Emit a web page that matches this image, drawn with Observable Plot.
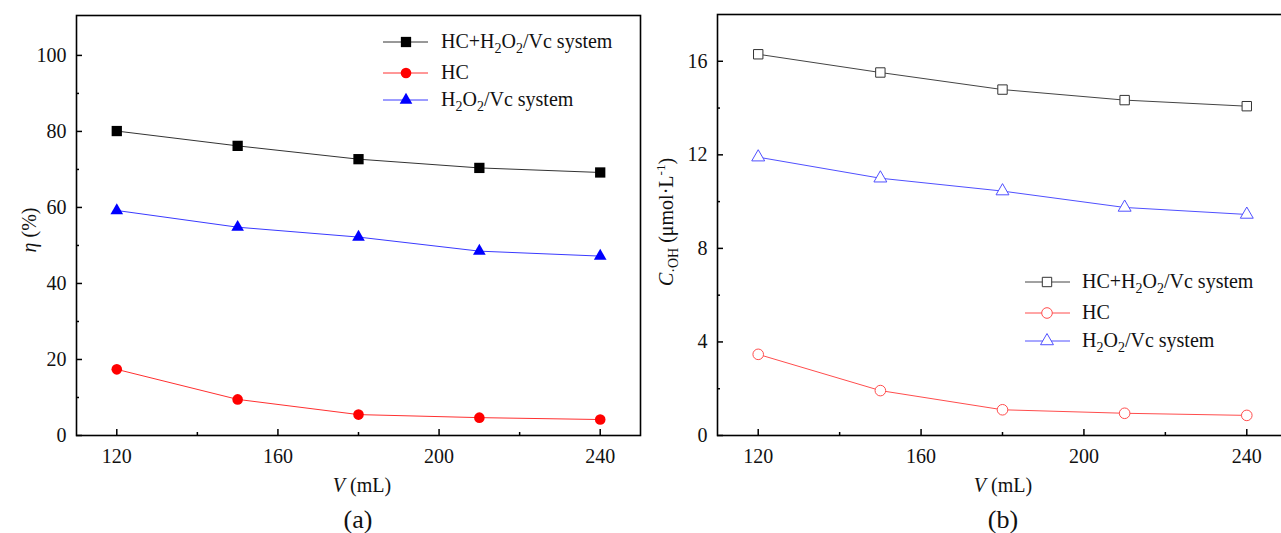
<!DOCTYPE html>
<html>
<head>
<meta charset="utf-8">
<script src="https://cdn.jsdelivr.net/npm/d3@7"></script>
<script src="https://cdn.jsdelivr.net/npm/@observablehq/plot@0.6"></script>
<style>
  html, body { margin: 0; padding: 0; background: #fff; overflow: hidden; }
  #wrap { position: relative; width: 1281px; height: 533px; overflow: hidden; }
  svg text { font-family: "Liberation Serif", "Times New Roman", serif !important; }
  .cap { position: absolute; font-family: "Liberation Serif", "Times New Roman", serif; font-size: 26px; color: #111; transform: translate(-50%, -50%); }
</style>
</head>
<body>
<div id="wrap"></div>
<script>
// ---- data ----
const volume = [120, 150, 180, 210, 240];
const etaCombined = [80.1, 76.2, 72.7, 70.4, 69.2];
const etaHC = [17.4, 9.5, 5.5, 4.7, 4.2];
const etaH2O2 = [59.2, 54.8, 52.2, 48.5, 47.2];
const cohCombined = [16.3, 15.52, 14.79, 14.34, 14.08];
const cohHC = [3.47, 1.92, 1.1, 0.95, 0.86];
const cohH2O2 = [11.9, 11.0, 10.45, 9.75, 9.45];
const xTicks = [120, 160, 200, 240];
const xMinor = [140, 180, 220];
const yTicksA = [0, 20, 40, 60, 80, 100];
const yMinorA = [10, 30, 50, 70, 90];
const yTicksB = [0, 4, 8, 12, 16];
const yMinorB = [2, 6, 10, 14];

const FONT = '"Liberation Serif", "Times New Roman", serif';
const FS = 20;
const wrap = document.getElementById("wrap");

function h2o2(sel, prefix) {
  sel.append("tspan").text(prefix + "H");
  sel.append("tspan").attr("font-size", 14).attr("dy", 5).text("2");
  sel.append("tspan").attr("dy", -5).text("O");
  sel.append("tspan").attr("font-size", 14).attr("dy", 5).text("2");
  sel.append("tspan").attr("dy", -5).text("/Vc system");
}
function legendLabel(t, sel) {
  if (t === "combined") h2o2(sel, "HC+");
  else if (t === "hc") sel.append("tspan").text("HC");
  else h2o2(sel, "");
}

function makePanel(cfg) {
  const {left, width, marginLeft, marginRight, marginTop, marginBottom, height,
         yDomain, yTicks, yMinor, series, filled} = cfg;
  const innerW = width - marginLeft - marginRight;
  const innerH = height - marginTop - marginBottom;
  const marks = [
    Plot.frame({stroke: "#000", strokeWidth: 1.6}),
    Plot.axisX({ticks: xTicks, tickSize: 0, tickPadding: 13, label: null, fontSize: FS, fill: "#111"}),
    Plot.axisY({ticks: yTicks, tickSize: 0, tickPadding: 10, label: null, fontSize: FS, fill: "#111"}),
    Plot.tickX(xTicks, {x: d => d, insetTop: innerH - 6, stroke: "#000", strokeWidth: 1.5}),
    Plot.tickX(xMinor, {x: d => d, insetTop: innerH - 3, stroke: "#000", strokeWidth: 1.5}),
    Plot.tickY(yTicks, {y: d => d, insetRight: innerW - 6, stroke: "#000", strokeWidth: 1.5}),
    Plot.tickY(yMinor, {y: d => d, insetRight: innerW - 3, stroke: "#000", strokeWidth: 1.5})
  ];
  for (const s of series) {
    const rows = volume.map((v, i) => ({v, y: s.values[i]}));
    marks.push(Plot.line(rows, {x: "v", y: "y", stroke: s.line, strokeWidth: 1}));
    marks.push(Plot.dot(rows, filled
      ? {x: "v", y: "y", symbol: s.symbol, r: s.r, fill: s.color, stroke: "none"}
      : {x: "v", y: "y", symbol: s.symbol, r: s.r, fill: "white", stroke: s.color, strokeWidth: 1}));
  }
  const svg = Plot.plot({
    width, height, marginLeft, marginRight, marginTop, marginBottom,
    x: {domain: [110, 250]},
    y: {domain: yDomain},
    style: {fontFamily: FONT, fontSize: FS + "px", color: "#000", background: "transparent", overflow: "visible"},
    marks
  });
  svg.style.position = "absolute";
  svg.style.left = left + "px";
  svg.style.top = "0px";
  svg.setAttribute("font-family", FONT);
  d3.select(svg).selectAll("g[aria-label$='tick label']").attr("font-family", FONT);
  const g = d3.select(svg).append("g").attr("font-family", FONT).attr("fill", "#111")
    .attr("text-anchor", "start");
  const L = cfg.legend;
  series.forEach((s, i) => {
    const y = L.rows[i];
    g.append("line").attr("x1", L.x1).attr("x2", L.x2).attr("y1", y).attr("y2", y)
      .attr("stroke", s.line).attr("stroke-width", 1);
    const sym = {square: d3.symbolSquare, circle: d3.symbolCircle, triangle: d3.symbolTriangle}[s.symbol];
    g.append("path").attr("d", d3.symbol(sym, Math.PI * s.r * s.r)())
      .attr("transform", `translate(${L.mx},${y})`)
      .attr("fill", filled ? s.color : "white")
      .attr("stroke", filled ? "none" : s.color);
    const t = g.append("text").attr("x", L.tx).attr("y", y + 6).attr("font-size", FS)
      .attr("text-anchor", "start");
    legendLabel(s.key, t);
  });
  const xl = g.append("text").attr("x", cfg.xLabelX).attr("y", 492).attr("text-anchor", "middle").attr("font-size", FS);
  xl.append("tspan").attr("font-style", "italic").text("V");
  xl.append("tspan").text(" (mL)");
  const yl = g.append("text").attr("transform", `translate(${cfg.yLabelX},${cfg.yLabelY}) rotate(-90)`)
    .attr("text-anchor", "middle").attr("font-size", FS);
  cfg.yLabel(yl);
  wrap.appendChild(svg);
  const cap = document.createElement("div");
  cap.className = "cap";
  cap.textContent = cfg.caption;
  cap.style.left = cfg.capX + "px";
  cap.style.top = "520px";
  wrap.appendChild(cap);
}

makePanel({
  left: 0, width: 646, height: 500, marginLeft: 76, marginRight: 6, marginTop: 15, marginBottom: 65,
  yDomain: [0, 110.5], yTicks: yTicksA, yMinor: yMinorA, filled: true,
  series: [
    {key: "combined", values: etaCombined, color: "#000", line: "#333", symbol: "square", r: 5.8},
    {key: "hc", values: etaHC, color: "#ff0000", line: "#ff3030", symbol: "circle", r: 5.3},
    {key: "h2o2", values: etaH2O2, color: "#0000ff", line: "#3a3aff", symbol: "triangle", r: 4.7}
  ],
  legend: {x1: 383, x2: 428, mx: 406, tx: 441, rows: [42, 73, 100]},
  xLabelX: 362, yLabelX: 36, yLabelY: 230,
  yLabel: (t) => { t.append("tspan").attr("font-style", "italic").text("η"); t.append("tspan").text(" (%)"); },
  caption: "(a)", capX: 358
});

makePanel({
  left: 640, width: 653, height: 500, marginLeft: 77, marginRight: 6, marginTop: 14, marginBottom: 65,
  yDomain: [0, 18], yTicks: yTicksB, yMinor: yMinorB, filled: false,
  series: [
    {key: "combined", values: cohCombined, color: "#333", line: "#444", symbol: "square", r: 5.3},
    {key: "hc", values: cohHC, color: "#ff4d4d", line: "#ff4d4d", symbol: "circle", r: 5.3},
    {key: "h2o2", values: cohH2O2, color: "#5050ff", line: "#5050ff", symbol: "triangle", r: 4.8}
  ],
  legend: {x1: 385, x2: 430, mx: 407, tx: 442, rows: [282, 313, 341]},
  xLabelX: 363, yLabelX: 33, yLabelY: 222,
  yLabel: (t) => {
    t.append("tspan").attr("font-style", "italic").text("C");
    t.append("tspan").attr("font-size", 14).attr("dy", 5).text("·OH");
    t.append("tspan").attr("dy", -5).text(" (μmol·L");
    t.append("tspan").attr("font-size", 13).attr("dy", -8).text("-1");
    t.append("tspan").attr("dy", 8).text(")");
  },
  caption: "(b)", capX: 1003
});
</script>
</body>
</html>
